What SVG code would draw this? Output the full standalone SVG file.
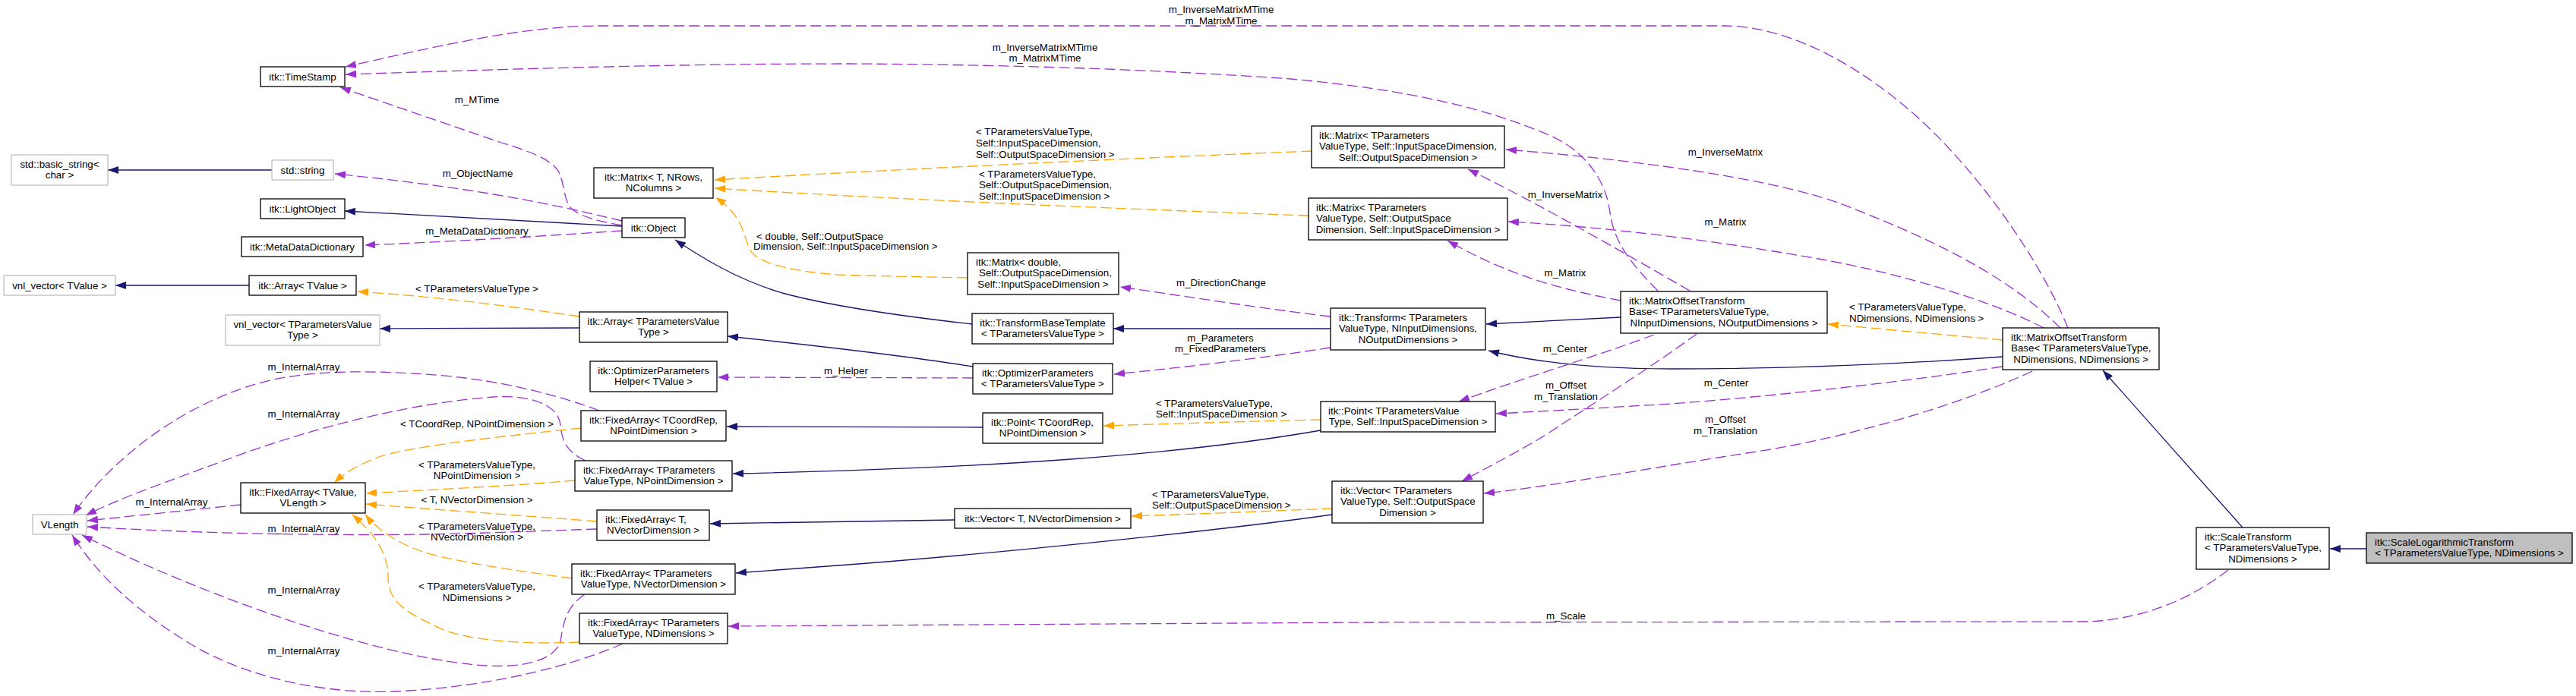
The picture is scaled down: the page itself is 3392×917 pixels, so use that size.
<svg xmlns="http://www.w3.org/2000/svg" width="3392" height="917" viewBox="0 0 3392 917">
<style>
.nd rect{fill:#fff;stroke:#000;stroke-width:1.3}
.gy rect{stroke:#bfbfbf}
.cur rect{fill:#bfbfbf}
text{font-family:"Liberation Sans",Arial,Helvetica,sans-serif;font-size:13.33px;fill:#000}
.m{text-anchor:middle}
#edges path{fill:none;stroke-width:1.3}
.i{stroke:#191970;marker-end:url(#ai)}
.u{stroke:#9a32cd;stroke-dasharray:14,6;marker-end:url(#au)}
.t{stroke:#ffa500;stroke-dasharray:14,6;marker-end:url(#at)}
</style>
<defs>
<marker id="ai" viewBox="0 0 14 10" refX="14" refY="5" markerWidth="14" markerHeight="10" markerUnits="userSpaceOnUse" orient="auto"><path d="M0,0 L14,5 L0,10 z" fill="#191970"/></marker>
<marker id="au" viewBox="0 0 14 10" refX="14" refY="5" markerWidth="14" markerHeight="10" markerUnits="userSpaceOnUse" orient="auto"><path d="M0,0 L14,5 L0,10 z" fill="#9a32cd"/></marker>
<marker id="at" viewBox="0 0 14 10" refX="14" refY="5" markerWidth="14" markerHeight="10" markerUnits="userSpaceOnUse" orient="auto"><path d="M0,0 L14,5 L0,10 z" fill="#ffa500"/></marker>
</defs>
<rect width="3392" height="917" fill="#fff"/>
<g id="edges">
<path class="i" d="M358,224 L142,224"/>
<path class="i" d="M328,376 L152,376"/>
<path class="i" d="M763,432 L500,433"/>
<path class="i" d="M819,298 L454,278"/>
<path class="u" d="M819,297 C790,292 760,285 750,272 C742,260 743,240 735,225 C725,210 700,200 660,188 L448,115"/>
<path class="u" d="M819,291 C700,262 600,245 441,229"/>
<path class="u" d="M819,304 C700,312 600,318 480,323"/>
<path class="i" d="M1280,427 C1200,418 1100,405 1030,386 C970,368 925,340 889,316"/>
<path class="t" d="M763,417 C680,405 600,393 471,384"/>
<path class="t" d="M1274,366 L1130,363 C1060,361 1000,350 988,330 C978,310 980,285 942,260"/>
<path class="t" d="M1727,199 C1500,208 1200,222 941,237"/>
<path class="t" d="M1723,284 C1500,276 1200,264 941,248"/>
<path class="i" d="M1752,433 L1466,433"/>
<path class="u" d="M1752,417 C1650,405 1560,390 1475,378"/>
<path class="u" d="M1752,458 C1700,466 1600,480 1467,493"/>
<path class="i" d="M1281,483 C1200,470 1100,458 958,443"/>
<path class="u" d="M1281,498 L945,497"/>
<path class="i" d="M1294,563 L957,562"/>
<path class="t" d="M1739,553 C1650,555 1550,558 1453,561"/>
<path class="i" d="M1739,567 C1550,600 1300,617 965,624"/>
<path class="i" d="M1257,685 L935,690"/>
<path class="t" d="M1754,670 C1680,673 1580,677 1490,680"/>
<path class="i" d="M1754,678 C1600,700 1300,730 1130,743 C1060,748 1010,752 969,755"/>
<path class="t" d="M765,564 C680,573 560,585 505,600 C475,610 455,622 440,636"/>
<path class="t" d="M757,633 C680,640 570,645 482,650"/>
<path class="t" d="M786,687 C700,680 580,672 482,664"/>
<path class="t" d="M753,762 C680,752 600,740 560,728 C530,718 500,702 481,678"/>
<path class="t" d="M763,846 C680,850 600,842 570,823 C530,805 511,790 511,760 C511,730 495,705 464,678"/>
<path class="u" d="M789,541 C720,515 640,498 560,493 C480,488 420,488 360,500 C250,525 150,600 96,678"/>
<path class="u" d="M771,607 C745,595 740,580 738,560 C735,530 690,520 650,523 C550,530 420,560 300,605 C220,635 160,655 113,679"/>
<path class="u" d="M317,665 L115,686"/>
<path class="u" d="M786,697 C700,700 620,703 560,704 C400,706 250,702 115,694"/>
<path class="u" d="M770,783 C745,800 742,820 738,845 C730,870 690,880 640,877 C520,870 300,800 108,705"/>
<path class="u" d="M820,848 C760,875 650,905 520,911 C420,915 320,890 250,848 C180,805 130,760 95,705"/>
<path class="u" d="M2723,432 C2690,350 2610,230 2520,150 C2440,80 2350,34 2270,34 L790,34 C690,34 580,60 455,88"/>
<path class="u" d="M2183,383 C2150,350 2125,320 2120,280 C2115,240 2090,200 2040,178 C1950,140 1850,118 1700,104 C1500,90 1300,85 1120,84 C900,84 700,90 455,98"/>
<path class="u" d="M2225,383 C2150,340 2030,270 1933,223"/>
<path class="u" d="M2134,396 C2060,382 1990,365 1906,317"/>
<path class="u" d="M2713,432 C2650,370 2560,320 2420,267 C2330,235 2150,210 1983,197"/>
<path class="u" d="M2691,432 C2620,395 2500,360 2400,342 C2250,315 2100,298 1986,292"/>
<path class="t" d="M2637,448 L2407,427"/>
<path class="i" d="M2134,418 L1957,427"/>
<path class="i" d="M2637,470 C2500,480 2350,486 2200,486 C2100,486 2020,477 1960,462"/>
<path class="u" d="M2178,441 C2100,470 2000,500 1921,529"/>
<path class="u" d="M2636,483 C2500,505 2300,525 2200,532 C2100,538 2030,542 1970,545"/>
<path class="u" d="M2234,440 C2180,480 2100,530 2040,570 C2000,595 1960,615 1925,634"/>
<path class="u" d="M2676,489 C2600,525 2450,575 2300,597 C2150,620 2050,640 1954,650"/>
<path class="i" d="M2953,695 L2769,488"/>
<path class="i" d="M3116,723 L3068,723"/>
<path class="u" d="M2934,751 C2890,785 2830,815 2750,819 L1800,820 L959,825"/>
</g>
<g id="edge-labels">
<text class="m" x="628" y="135.5">m_MTime</text>
<text class="m" x="629" y="232.5">m_ObjectName</text>
<text class="m" x="628" y="308.5">m_MetaDataDictionary</text>
<text class="m" x="628" y="384.5">&lt; TParametersValueType &gt;</text>
<text class="m" x="1608" y="16.5">m_InverseMatrixMTime</text>
<text class="m" x="1608" y="31.5">m_MatrixMTime</text>
<text class="m" x="1376" y="66.5">m_InverseMatrixMTime</text>
<text class="m" x="1376" y="80.5">m_MatrixMTime</text>
<text x="1285" y="177.5">&lt; TParametersValueType,</text>
<text x="1285" y="192.5">Self::InputSpaceDimension,</text>
<text x="1285" y="207.5">Self::OutputSpaceDimension &gt;</text>
<text x="1289" y="233.5">&lt; TParametersValueType,</text>
<text x="1289" y="247.5">Self::OutputSpaceDimension,</text>
<text x="1289" y="262.5">Self::InputSpaceDimension &gt;</text>
<text x="996" y="315.5">&lt; double, Self::OutputSpace</text>
<text x="992" y="328.5">Dimension, Self::InputSpaceDimension &gt;</text>
<text class="m" x="1608" y="376.5">m_DirectionChange</text>
<text class="m" x="1607" y="449.5">m_Parameters</text>
<text class="m" x="1607" y="463.5">m_FixedParameters</text>
<text class="m" x="2061" y="260.5">m_InverseMatrix</text>
<text class="m" x="2061" y="363.5">m_Matrix</text>
<text class="m" x="2272" y="204.5">m_InverseMatrix</text>
<text class="m" x="2272" y="296.5">m_Matrix</text>
<text x="2435" y="408.5">&lt; TParametersValueType,</text>
<text x="2435" y="423.5">NDimensions, NDimensions &gt;</text>
<text class="m" x="2061" y="463.5">m_Center</text>
<text class="m" x="2273" y="508.5">m_Center</text>
<text class="m" x="2062" y="511.5">m_Offset</text>
<text class="m" x="2062" y="526.5">m_Translation</text>
<text class="m" x="2272" y="556.5">m_Offset</text>
<text class="m" x="2272" y="571.5">m_Translation</text>
<text class="m" x="2062" y="815.5">m_Scale</text>
<text class="m" x="1114" y="492.5">m_Helper</text>
<text x="1522" y="535.5">&lt; TParametersValueType,</text>
<text x="1522" y="549.5">Self::InputSpaceDimension &gt;</text>
<text x="1517" y="655.5">&lt; TParametersValueType,</text>
<text x="1517" y="669.5">Self::OutputSpaceDimension &gt;</text>
<text class="m" x="400" y="487.5">m_InternalArray</text>
<text class="m" x="400" y="549.5">m_InternalArray</text>
<text class="m" x="226" y="665.5">m_InternalArray</text>
<text class="m" x="400" y="700.5">m_InternalArray</text>
<text class="m" x="400" y="781.5">m_InternalArray</text>
<text class="m" x="400" y="861.5">m_InternalArray</text>
<text class="m" x="628" y="562.5">&lt; TCoordRep, NPointDimension &gt;</text>
<text class="m" x="628" y="616.5">&lt; TParametersValueType,</text>
<text class="m" x="628" y="630.5">NPointDimension &gt;</text>
<text class="m" x="628" y="662.5">&lt; T, NVectorDimension &gt;</text>
<text class="m" x="628" y="697.5">&lt; TParametersValueType,</text>
<text class="m" x="628" y="711.5">NVectorDimension &gt;</text>
<text class="m" x="628" y="776.5">&lt; TParametersValueType,</text>
<text class="m" x="628" y="791.5">NDimensions &gt;</text>
</g>
<g id="n1" class="nd"><rect x="343" y="88" width="111" height="26"/><text class="m" x="398.5" y="105.5">itk::TimeStamp</text></g>
<g id="n2" class="nd gy"><rect x="15" y="204" width="127" height="40"/><text class="m" x="78.5" y="220.5">std::basic_string&lt;</text><text class="m" x="78.5" y="235">char &gt;</text></g>
<g id="n3" class="nd gy"><rect x="358" y="211" width="81" height="26"/><text class="m" x="398.5" y="228.5">std::string</text></g>
<g id="n4" class="nd"><rect x="343" y="262" width="111" height="26"/><text class="m" x="398.5" y="279.5">itk::LightObject</text></g>
<g id="n5" class="nd"><rect x="318" y="312" width="160" height="26"/><text class="m" x="398" y="329.5">itk::MetaDataDictionary</text></g>
<g id="n6" class="nd gy"><rect x="5" y="363" width="147" height="26"/><text class="m" x="78.5" y="380.5">vnl_vector&lt; TValue &gt;</text></g>
<g id="n7" class="nd"><rect x="328" y="363" width="141" height="26"/><text class="m" x="398.5" y="380.5">itk::Array&lt; TValue &gt;</text></g>
<g id="n8" class="nd gy"><rect x="297" y="415" width="203" height="40"/><text class="m" x="398.5" y="431.5">vnl_vector&lt; TParametersValue</text><text class="m" x="398.5" y="446">Type &gt;</text></g>
<g id="n9" class="nd"><rect x="782" y="221" width="157" height="40"/><text class="m" x="860.5" y="237.5">itk::Matrix&lt; T, NRows,</text><text class="m" x="860.5" y="252">NColumns &gt;</text></g>
<g id="n10" class="nd"><rect x="819" y="287" width="83" height="26"/><text class="m" x="860.5" y="304.5">itk::Object</text></g>
<g id="n11" class="nd"><rect x="763" y="411" width="195" height="40"/><text class="m" x="860.5" y="427.5">itk::Array&lt; TParametersValue</text><text class="m" x="860.5" y="442">Type &gt;</text></g>
<g id="n12" class="nd"><rect x="1274" y="333" width="199" height="55"/><text x="1285" y="349.5">itk::Matrix&lt; double,</text><text x="1289" y="364">Self::OutputSpaceDimension,</text><text class="m" x="1373.5" y="378.5">Self::InputSpaceDimension &gt;</text></g>
<g id="n13" class="nd"><rect x="1280" y="413" width="186" height="40"/><text class="m" x="1373" y="429.5">itk::TransformBaseTemplate</text><text class="m" x="1373" y="444">&lt; TParametersValueType &gt;</text></g>
<g id="n14" class="nd"><rect x="1727" y="166" width="254" height="55"/><text x="1737" y="182.5">itk::Matrix&lt; TParameters</text><text x="1737" y="197">ValueType, Self::InputSpaceDimension,</text><text class="m" x="1854" y="211.5">Self::OutputSpaceDimension &gt;</text></g>
<g id="n15" class="nd"><rect x="1723" y="261" width="262" height="55"/><text x="1733" y="277.5">itk::Matrix&lt; TParameters</text><text x="1733" y="292">ValueType, Self::OutputSpace</text><text class="m" x="1854" y="306.5">Dimension, Self::InputSpaceDimension &gt;</text></g>
<g id="n16" class="nd"><rect x="1752" y="406" width="204" height="55"/><text x="1763" y="422.5">itk::Transform&lt; TParameters</text><text x="1763" y="437">ValueType, NInputDimensions,</text><text class="m" x="1854" y="451.5">NOutputDimensions &gt;</text></g>
<g id="n17" class="nd"><rect x="2134" y="384" width="272" height="55"/><text x="2145" y="400.5">itk::MatrixOffsetTransform</text><text x="2145" y="415">Base&lt; TParametersValueType,</text><text class="m" x="2270" y="429.5">NInputDimensions, NOutputDimensions &gt;</text></g>
<g id="n18" class="nd"><rect x="2637" y="432" width="206" height="55"/><text x="2648" y="448.5">itk::MatrixOffsetTransform</text><text x="2648" y="463">Base&lt; TParametersValueType,</text><text class="m" x="2740" y="477.5">NDimensions, NDimensions &gt;</text></g>
<g id="n19" class="nd gy"><rect x="43" y="678" width="71" height="26"/><text class="m" x="78.5" y="695.5">VLength</text></g>
<g id="n20" class="nd"><rect x="317" y="636" width="164" height="40"/><text class="m" x="399" y="652.5">itk::FixedArray&lt; TValue,</text><text class="m" x="399" y="667">VLength &gt;</text></g>
<g id="n21" class="nd"><rect x="777" y="476" width="167" height="40"/><text class="m" x="860.5" y="492.5">itk::OptimizerParameters</text><text class="m" x="860.5" y="507">Helper&lt; TValue &gt;</text></g>
<g id="n22" class="nd"><rect x="765" y="541" width="191" height="40"/><text class="m" x="860.5" y="557.5">itk::FixedArray&lt; TCoordRep,</text><text class="m" x="860.5" y="572">NPointDimension &gt;</text></g>
<g id="n23" class="nd"><rect x="757" y="607" width="207" height="40"/><text x="768" y="623.5">itk::FixedArray&lt; TParameters</text><text class="m" x="860.5" y="638">ValueType, NPointDimension &gt;</text></g>
<g id="n24" class="nd"><rect x="786" y="672" width="148" height="40"/><text x="797" y="688.5">itk::FixedArray&lt; T,</text><text class="m" x="860" y="703">NVectorDimension &gt;</text></g>
<g id="n25" class="nd"><rect x="753" y="743" width="215" height="40"/><text x="764" y="759.5">itk::FixedArray&lt; TParameters</text><text class="m" x="860.5" y="774">ValueType, NVectorDimension &gt;</text></g>
<g id="n26" class="nd"><rect x="763" y="808" width="195" height="40"/><text x="774" y="824.5">itk::FixedArray&lt; TParameters</text><text class="m" x="860.5" y="839">ValueType, NDimensions &gt;</text></g>
<g id="n27" class="nd"><rect x="1281" y="479" width="184" height="40"/><text x="1293" y="495.5">itk::OptimizerParameters</text><text class="m" x="1373" y="510">&lt; TParametersValueType &gt;</text></g>
<g id="n28" class="nd"><rect x="1294" y="544" width="158" height="40"/><text x="1305" y="560.5">itk::Point&lt; TCoordRep,</text><text class="m" x="1373" y="575">NPointDimension &gt;</text></g>
<g id="n29" class="nd"><rect x="1257" y="670" width="232" height="26"/><text class="m" x="1373" y="687.5">itk::Vector&lt; T, NVectorDimension &gt;</text></g>
<g id="n30" class="nd"><rect x="1739" y="529" width="230" height="40"/><text x="1749" y="545.5">itk::Point&lt; TParametersValue</text><text class="m" x="1854" y="560">Type, Self::InputSpaceDimension &gt;</text></g>
<g id="n31" class="nd"><rect x="1754" y="634" width="199" height="55"/><text x="1765" y="650.5">itk::Vector&lt; TParameters</text><text x="1765" y="665">ValueType, Self::OutputSpace</text><text class="m" x="1853.5" y="679.5">Dimension &gt;</text></g>
<g id="n32" class="nd"><rect x="2892" y="695" width="175" height="55"/><text x="2903" y="711.5">itk::ScaleTransform</text><text x="2903" y="726">&lt; TParametersValueType,</text><text class="m" x="2979.5" y="740.5">NDimensions &gt;</text></g>
<g id="n33" class="nd cur"><rect x="3116" y="702" width="271" height="40"/><text x="3127" y="718.5">itk::ScaleLogarithmicTransform</text><text class="m" x="3251.5" y="733">&lt; TParametersValueType, NDimensions &gt;</text></g>
</svg>
